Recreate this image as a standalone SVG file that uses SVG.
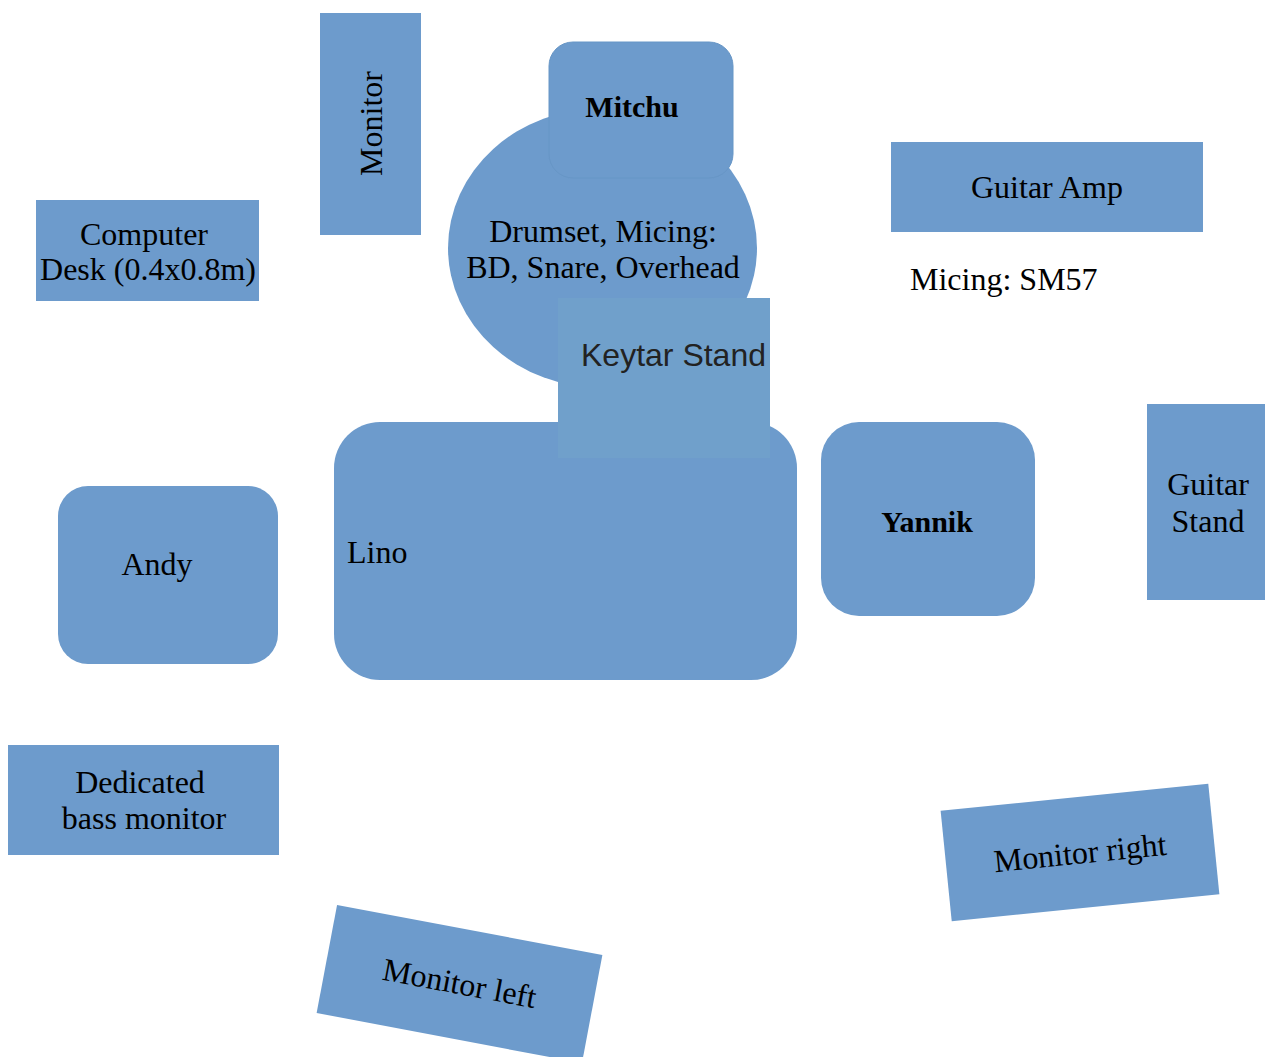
<svg xmlns="http://www.w3.org/2000/svg" width="1265" height="1057" viewBox="0 0 1265 1057">
<style>
.s{fill:#6d9bcc}
.t{font-family:"Liberation Serif","Times New Roman",serif;font-size:32px;fill:#000}
.c{text-anchor:middle}
.b{font-weight:bold;font-size:30px}
.k{fill:#70a0cb}
.ks{font-family:"Liberation Sans",Arial,sans-serif;font-size:32px;fill:#222}
</style>
<rect width="1265" height="1057" fill="#fff"/>
<g id="monitor">
<rect class="s" x="320" y="13" width="101" height="222"/>
<text class="t c" transform="translate(382,123.5) rotate(-90)">Monitor</text>
</g>
<g id="computer-desk">
<rect class="s" x="36" y="200" width="223" height="101"/>
<text class="t c" x="144" y="245">Computer</text>
<text class="t c" x="148" y="280">Desk (0.4x0.8m)</text>
</g>
<g id="drumset">
<ellipse class="s" cx="602.5" cy="248" rx="154.5" ry="140"/>
</g>
<g id="mitchu">
<rect class="s" x="549" y="42" width="184" height="136" rx="24" stroke="#6796c6" stroke-width="1"/>
<text class="t b c" x="632" y="117">Mitchu</text>
</g>
<g id="drumset-label">
<text class="t c" x="603" y="242">Drumset, Micing:</text>
<text class="t c" x="603" y="278">BD, Snare, Overhead</text>
</g>
<g id="guitar-amp">
<rect class="s" x="891" y="142" width="312" height="90"/>
<text class="t c" x="1047" y="198">Guitar Amp</text>
</g>
<g id="micing-sm57">
<text class="t" x="910" y="290">Micing: SM57</text>
</g>
<g id="lino">
<rect class="s" x="334" y="422" width="463" height="258" rx="46"/>
<text class="t" x="347" y="563">Lino</text>
</g>
<g id="keytar-stand">
<rect class="k" x="558" y="298" width="212" height="160"/>
<text class="ks" x="581" y="366">Keytar Stand</text>
</g>
<g id="yannik">
<rect class="s" x="821" y="422" width="214" height="194" rx="38"/>
<text class="t b c" x="927" y="532">Yannik</text>
</g>
<g id="guitar-stand">
<rect class="s" x="1147" y="404" width="118" height="196"/>
<text class="t c" x="1208" y="495">Guitar</text>
<text class="t c" x="1208" y="532">Stand</text>
</g>
<g id="andy">
<rect class="s" x="58" y="486" width="220" height="178" rx="30"/>
<text class="t c" x="157" y="575">Andy</text>
</g>
<g id="dedicated-bass-monitor">
<rect class="s" x="8" y="745" width="271" height="110"/>
<text class="t c" x="140" y="793">Dedicated</text>
<text class="t c" x="144" y="829">bass monitor</text>
</g>
<g id="monitor-right">
<rect class="s" x="-134.5" y="-55.5" width="269" height="111" transform="translate(1080,852.5) rotate(-5.75)"/>
<text class="t c" transform="translate(1080,852.5) rotate(-5.75)" x="0" y="11">Monitor right</text>
</g>
<g id="monitor-left">
<rect class="s" x="-135" y="-55" width="270" height="110" transform="translate(459.5,984) rotate(10.7)"/>
<text class="t c" transform="translate(459.5,984) rotate(10.7)" x="0" y="10">Monitor left</text>
</g>
<g id="connectors"></g>
</svg>
